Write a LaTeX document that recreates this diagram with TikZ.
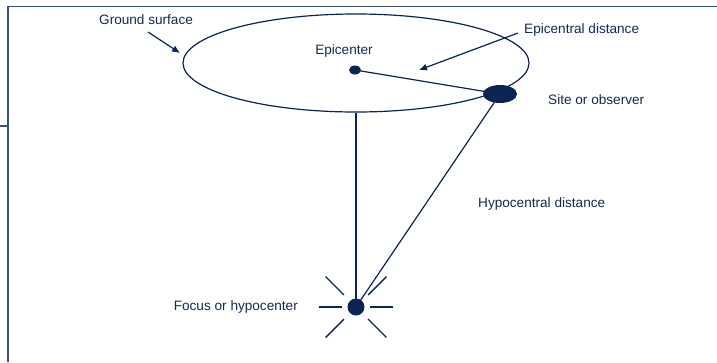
\documentclass[tikz,border=0pt]{standalone}
\usepackage{fontspec}
\setmainfont{Liberation Sans}
\usetikzlibrary{shapes.geometric,arrows.meta}
\definecolor{navy}{RGB}{12,36,82}
\definecolor{txt}{RGB}{22,40,78}
\definecolor{frame}{RGB}{60,80,115}
\tikzset{
  lbl/.style={text=txt,font=\fontsize{13.6}{16}\selectfont,inner sep=0pt},
  ln/.style={draw=navy,line width=1.2pt},
  arr/.style={ln,-{Latex[length=8pt,width=7pt]}},
  ray/.style={draw=navy,line width=1.4pt},
  dot/.style={ellipse,fill=navy,inner sep=0pt}
}
\begin{document}
\begin{tikzpicture}[x=1pt,y=-1pt]
\useasboundingbox (0,0) rectangle (717,362);
% frame
\draw[frame,line width=1.6pt] (8,362) -- (8,6.5) -- (717,6.5);
\draw[frame,line width=1.6pt] (0,126) -- (8,126);
% ground surface ellipse
\node[ellipse,ln,minimum width=346pt,minimum height=98pt,inner sep=0pt] (ground) at (356,63) {};
% dots
\node[dot,minimum width=12pt,minimum height=9pt] (epi) at (355,70) {};
\node[dot,minimum width=34pt,minimum height=18pt] (site) at (500,94) {};
\node[circle,fill=navy,minimum size=17pt,inner sep=0pt] (hypo) at (356,307) {};
% connectors
\draw[ln] (ground.south) -- (hypo.center);
\draw[ln] (epi.center) -- (site.center);
\draw[ln] (site.center) -- (hypo.center);
% rays
\foreach \a in {0,180,270} \draw[ray] (hypo.center) ++(\a:14) -- ++(\a:23);
\foreach \a in {45,135,225,315} \draw[ray] (hypo.center) ++(\a:17) -- ++(\a:26);
% labels
\node[lbl,anchor=west] (lgs) at (99,20) {Ground surface};
\node[lbl] (lepi) at (344,51) {Epicenter};
\node[lbl,anchor=west] (led) at (524,30) {Epicentral distance};
\node[lbl,anchor=west] (lso) at (548,100) {Site or observer};
\node[lbl,anchor=west] (lhd) at (478,204) {Hypocentral distance};
\node[lbl,anchor=east] (lfh) at (298,307) {Focus or hypocenter};
% arrows
\coordinate (gsA) at (148,32);
\coordinate (gsB) at (180,53);
\coordinate (edA) at (518,33);
\coordinate (edB) at (419,70);
\draw[arr] (gsA) -- (gsB);
\draw[arr] (edA) -- (edB);
\end{tikzpicture}
\end{document}
